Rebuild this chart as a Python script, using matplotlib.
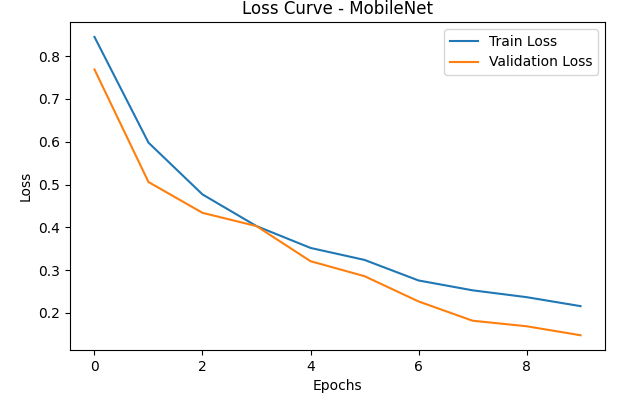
import numpy as np
import matplotlib
matplotlib.use('Agg')
import matplotlib.pyplot as plt

# 읽어낸 값들
epochs = np.arange(10)
train_loss = [0.845, 0.598, 0.477, 0.403, 0.352, 0.324, 0.276, 0.253, 0.237, 0.216]
val_loss = [0.769, 0.506, 0.434, 0.403, 0.321, 0.286, 0.227, 0.182, 0.169, 0.148]

fig = plt.figure(figsize=(6.21, 3.93), dpi=100)
plt.subplots_adjust(left=0.113, right=0.974, top=0.944, bottom=0.109)
plt.plot(epochs, train_loss, label='Train Loss')
plt.plot(epochs, val_loss, label='Validation Loss')
plt.title('Loss Curve - MobileNet')
plt.xlabel('Epochs')
plt.ylabel('Loss')
plt.legend()
plt.savefig('out.png', dpi=100)
